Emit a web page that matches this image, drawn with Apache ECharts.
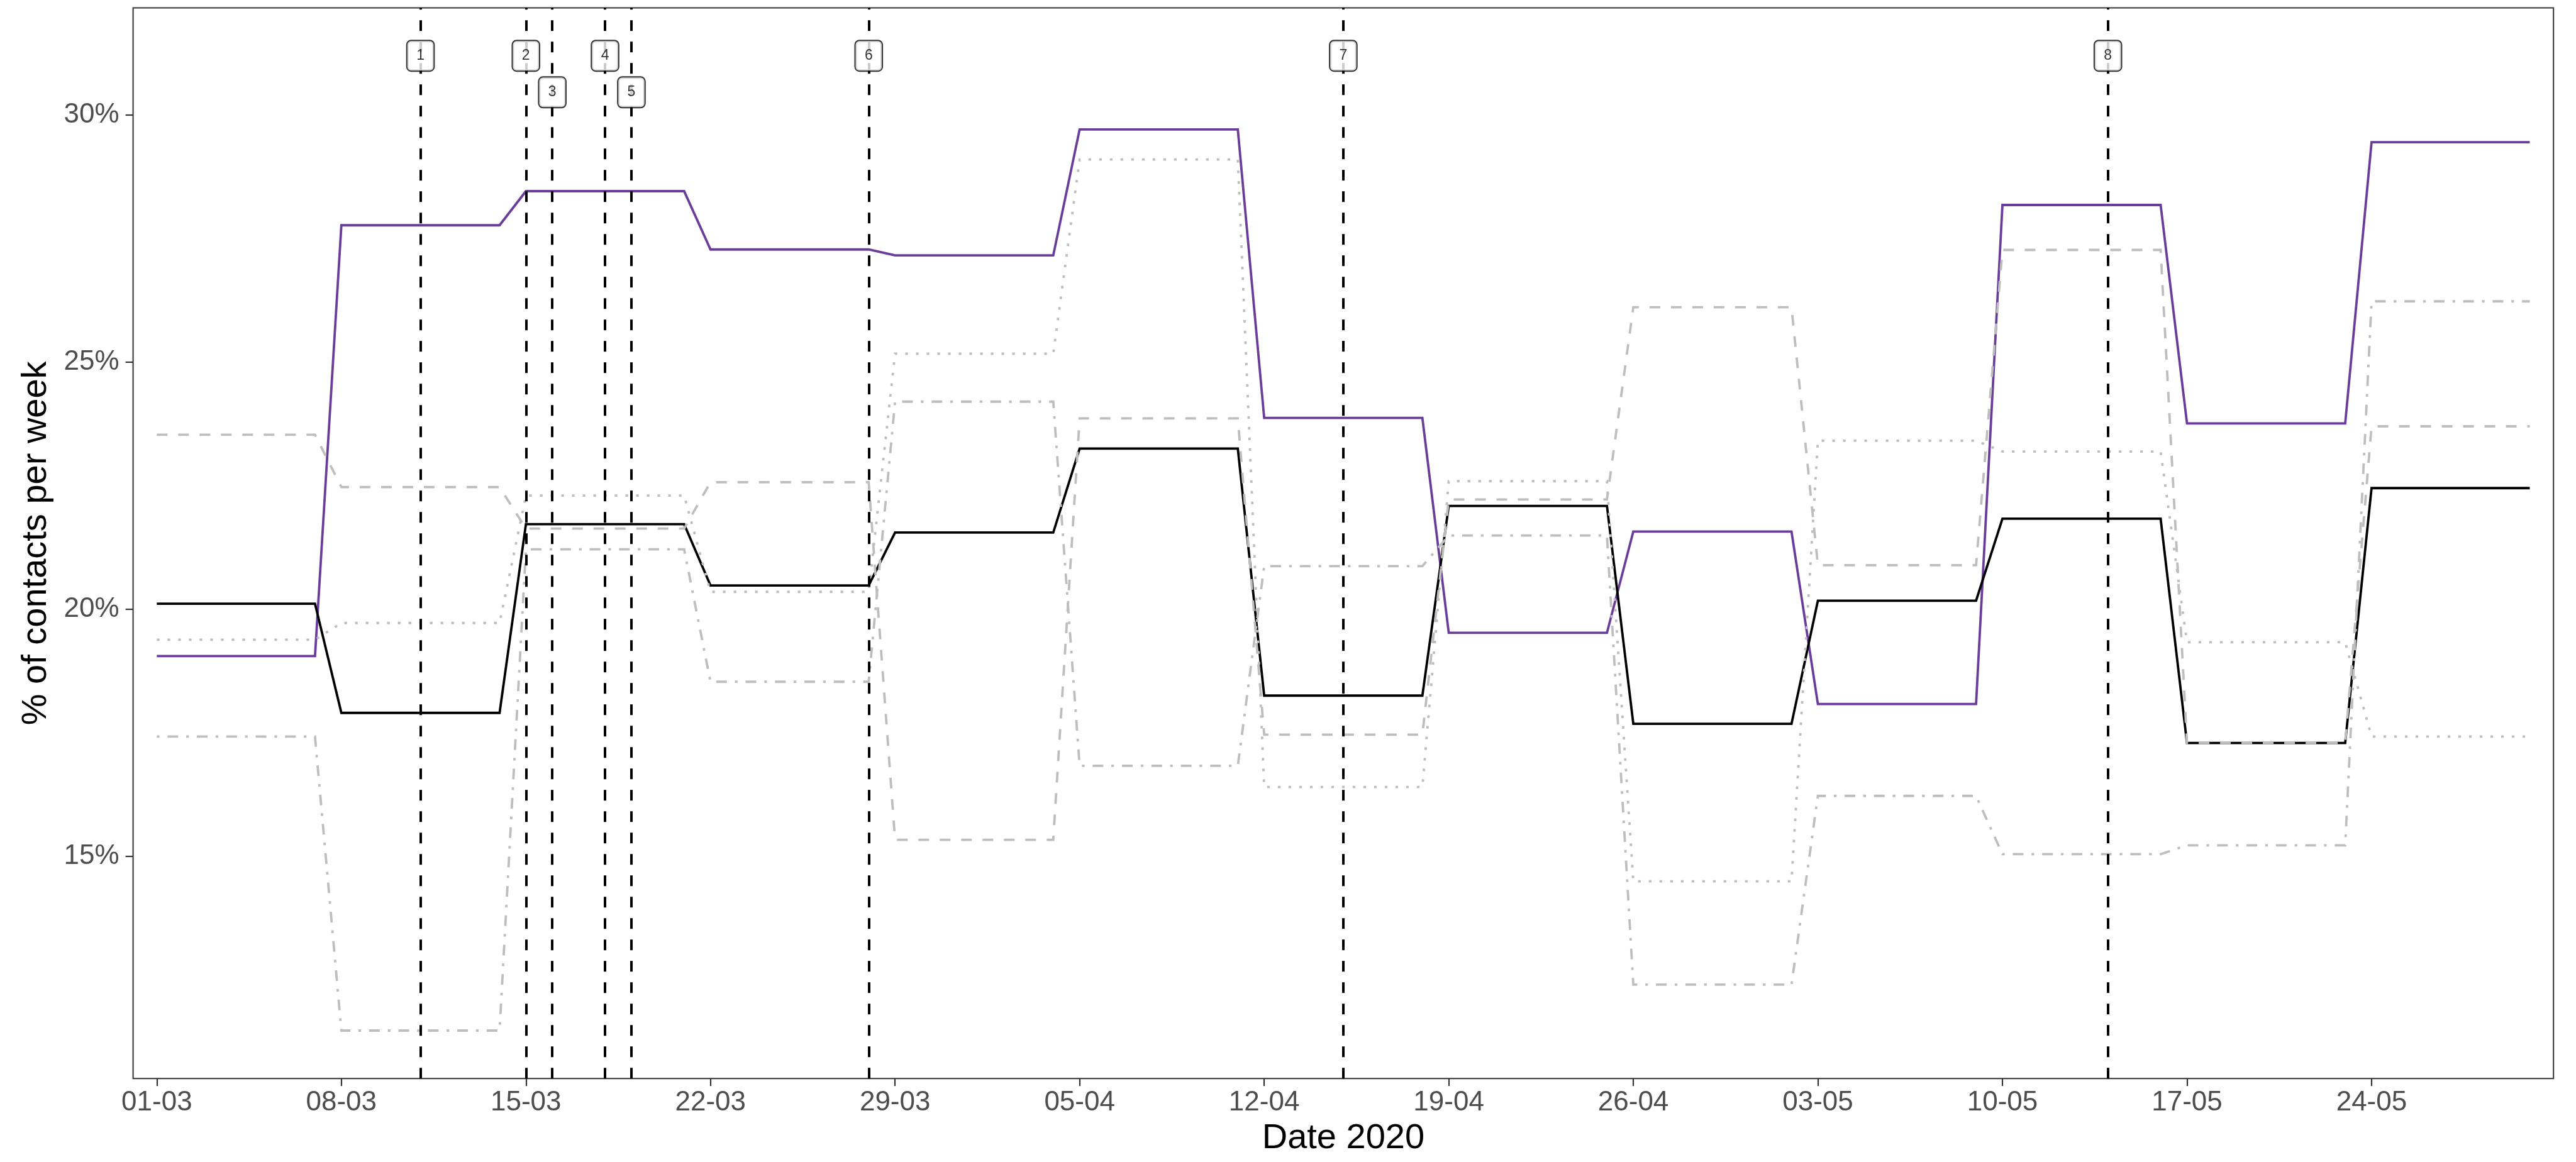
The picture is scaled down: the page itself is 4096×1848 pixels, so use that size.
<!DOCTYPE html>
<html>
<head>
<meta charset="utf-8">
<script src="https://cdn.jsdelivr.net/npm/echarts@6/dist/echarts.min.js"></script>
<style>
  html, body { margin: 0; padding: 0; background: #ffffff; }
  #chart { width: 4096px; height: 1848px; }
</style>
</head>
<body>
<div id="chart"></div>
<script>
// Day offsets are counted from Sunday 01-03-2020; each week runs Sunday..Saturday.
const START_DATE = Date.UTC(2020, 2, 1);
const weekStartDays = [0, 7, 14, 21, 28, 35, 42, 49, 56, 63, 70, 77, 84];
const lastDay = 90;

// Share of contacts per week (%), one value per week.
const purpleSeries = [19.05, 27.77, 28.46, 27.28, 27.16, 29.71, 23.87, 19.52, 21.57, 18.08, 28.18, 23.76, 29.45];
const blackSeries  = [20.11, 17.90, 21.72, 20.48, 21.55, 23.25, 18.25, 22.09, 17.68, 20.17, 21.83, 17.29, 22.45];
const dashedSeries = [23.53, 22.47, 21.63, 22.57, 15.33, 23.86, 17.46, 22.22, 26.11, 20.89, 27.27, 17.29, 23.70];
const dottedSeries = [19.38, 19.72, 22.30, 20.35, 25.17, 29.10, 16.40, 22.59, 14.49, 23.41, 23.19, 19.33, 17.42];
const dotdashSeries = [17.42, 11.47, 21.21, 18.53, 24.20, 16.83, 20.87, 21.49, 12.40, 16.22, 15.04, 15.22, 26.23];

// Numbered events (vertical markers)
const eventDays   = [10, 14, 15, 17, 18, 27, 45, 74];
const eventLabels = ['1', '2', '3', '4', '5', '6', '7', '8'];
const eventLabelY = [31.2, 31.2, 30.46, 31.2, 30.46, 31.2, 31.2, 31.2];

// Axis ticks
const xTickDays = [0, 7, 14, 21, 28, 35, 42, 49, 56, 63, 70, 77, 84];
const yTicks = [15, 20, 25, 30];

const FONT = '"Liberation Sans", Arial, Helvetica, sans-serif';
const GREY = '#bebebe';
const U = 4.25; // dash unit

function dayLabel(d) {
  const dt = new Date(START_DATE + d * 86400000);
  const dd = String(dt.getUTCDate()).padStart(2, '0');
  const mm = String(dt.getUTCMonth() + 1).padStart(2, '0');
  return dd + '-' + mm;
}

// Each weekly value holds from the week's first day to its last day.
function weeklyPoints(values) {
  const pts = [];
  values.forEach((v, i) => {
    const s = weekStartDays[i];
    const e = Math.min(s + 6, lastDay);
    pts.push([s, v]);
    pts.push([e, v]);
  });
  return pts;
}

function lineSeries(name, values, color, type) {
  return {
    name: name,
    type: 'line',
    data: weeklyPoints(values),
    showSymbol: false,
    symbol: 'none',
    lineStyle: { color: color, width: 3.8, type: type, cap: 'butt', join: 'miter' },
    silent: true,
    z: 2
  };
}

const chart = echarts.init(document.getElementById('chart'), null, { renderer: 'canvas' });

chart.setOption({
  animation: false,
  backgroundColor: '#ffffff',
  textStyle: { fontFamily: FONT },
  grid: {
    left: 211.6, right: 35.8, top: 12.5, bottom: 132.8,
    show: true, borderColor: '#333333', borderWidth: 2,
    containLabel: false, outerBoundsMode: 'none'
  },
  xAxis: {
    type: 'value',
    min: -0.9,
    max: 90.9,
    name: 'Date 2020',
    nameLocation: 'middle',
    nameGap: 67,
    nameTextStyle: { color: '#000000', fontSize: 56, lineHeight: 56, fontFamily: FONT },
    axisLine: { show: false, onZero: false },
    axisTick: { show: true, customValues: xTickDays, length: 12, lineStyle: { color: '#333333', width: 2.2 } },
    axisLabel: {
      show: true, customValues: xTickDays, margin: 17,
      color: '#4d4d4d', fontSize: 44, lineHeight: 44, fontFamily: FONT,
      formatter: v => dayLabel(v)
    },
    splitLine: { show: false }
  },
  yAxis: {
    type: 'value',
    min: 10.5,
    max: 32.17,
    name: '% of contacts per week',
    nameLocation: 'middle',
    nameRotate: 90,
    nameGap: 126,
    nameTextStyle: { color: '#000000', fontSize: 56, lineHeight: 56, fontFamily: FONT },
    axisLine: { show: false, onZero: false },
    axisTick: { show: true, customValues: yTicks, length: 12, lineStyle: { color: '#333333', width: 2.2 } },
    axisLabel: {
      show: true, customValues: yTicks, margin: 22,
      color: '#4d4d4d', fontSize: 44, lineHeight: 44, fontFamily: FONT,
      formatter: v => v + '%'
    },
    splitLine: { show: false }
  },
  series: [
    lineSeries('Highlighted group', purpleSeries, '#6a3d9a', 'solid'),
    lineSeries('All contacts', blackSeries, '#000000', 'solid'),
    lineSeries('Group B', dashedSeries, GREY, [4 * U, 4 * U]),
    lineSeries('Group C', dottedSeries, GREY, [U, 3 * U]),
    lineSeries('Group D', dotdashSeries, GREY, [U, 3 * U, 4 * U, 3 * U]),
    {
      name: 'Events',
      type: 'line',
      data: [],
      silent: true,
      markLine: {
        silent: true,
        symbol: ['none', 'none'],
        label: { show: false },
        lineStyle: { color: '#000000', width: 4, type: [17, 17], cap: 'butt' },
        emphasis: { disabled: true },
        data: eventDays.map(d => ({ xAxis: d }))
      },
      z: 3
    },
    {
      name: 'Event labels',
      type: 'scatter',
      symbol: 'rect',
      symbolSize: 0,
      silent: true,
      data: eventDays.map((d, i) => [d, eventLabelY[i], eventLabels[i]]),
      label: {
        show: true,
        position: 'inside',
        formatter: p => p.value[2],
        color: '#000000',
        fontSize: 23,
        lineHeight: 23,
        fontFamily: FONT,
        backgroundColor: '#ffffff',
        borderColor: '#000000',
        borderWidth: 2,
        borderRadius: 6,
        padding: [12, 14.4, 12, 14.4]
      },
      z: 5
    }
  ]
});
</script>
</body>
</html>
